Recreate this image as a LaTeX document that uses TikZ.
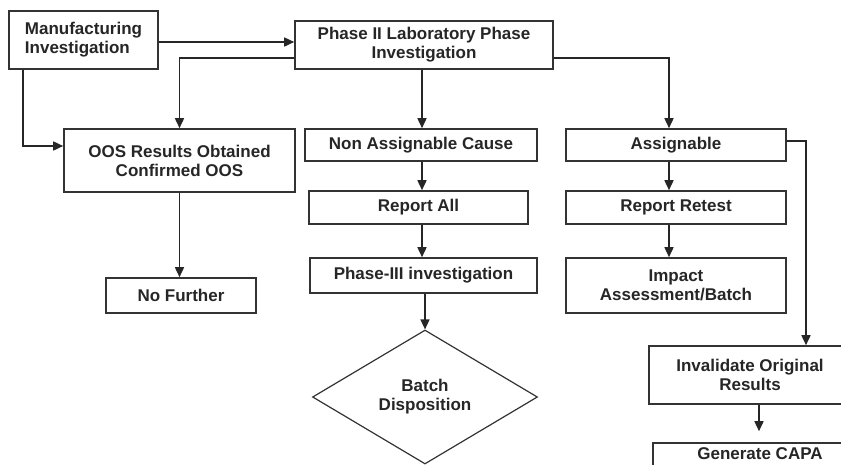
\documentclass[tikz,border=0pt]{standalone}
\usepackage{fontspec}
\setmainfont{Liberation Sans}
\usetikzlibrary{arrows.meta,shapes.geometric}
\begin{document}
\begin{tikzpicture}[x=1pt,y=-1pt,
  box/.style={draw=black!80, line width=1.6pt, fill=white, inner sep=2pt, align=center,
    font=\fontsize{17}{19}\selectfont\bfseries, text=black!85},
  conn/.style={draw=black!85, line width=1.6pt, -{Triangle[length=10pt,width=9pt]}}]
\useasboundingbox (0,0) rectangle (841,464);
\clip (0,0) rectangle (841,464);
\node[box, align=left, minimum width=149pt, minimum height=58pt] (mi) at (83.5,40) {Manufacturing\\Investigation};
\node[box, minimum width=258pt, minimum height=48pt] (p2) at (424,45) {Phase II Laboratory Phase\\Investigation};
\node[box, minimum width=231pt, minimum height=63pt] (oos) at (179.5,160.5) {OOS Results Obtained\\Confirmed OOS};
\node[box, minimum width=150pt, minimum height=35pt] (nf) at (181,295.5) {No Further};
\node[box, minimum width=232pt, minimum height=32pt] (nac) at (421,145) {Non Assignable Cause};
\node[box, minimum width=219pt, minimum height=33pt] (ra) at (418.5,207.5) {Report All};
\node[box, minimum width=227pt, minimum height=35pt] (p3) at (423.5,275.5) {Phase-III investigation};
\node[box, diamond, line width=1.2pt, inner sep=0pt, minimum width=225pt, minimum height=134pt] (bd) at (425,397) {Batch\\Disposition};
\node[box, minimum width=220pt, minimum height=32pt] (as) at (676,145) {Assignable};
\node[box, minimum width=220pt, minimum height=33pt] (rr) at (676,207.5) {Report Retest};
\node[box, minimum width=220pt, minimum height=55pt] (ia) at (676,285.5) {Impact\\Assessment/Batch};
\node[box, minimum width=202pt, minimum height=58pt] (inv) at (750,375) {Invalidate Original\\Results};
\node[box, minimum width=214pt, minimum height=40pt, text height=12pt, text depth=20pt] (gc) at (760,463) {Generate CAPA};

\draw[conn] ([yshift=-2pt]mi.east) -- ([yshift=-2pt]mi.east -| p2.west);
\draw[conn] ([yshift=-13pt]p2.west) -| (oos.north);
\draw[conn] ([xshift=15pt]mi.south west) |- ([yshift=14.5pt]oos.west);
\draw[conn] (oos.south) -- (oos.south |- nf.north);
\draw[conn] ([xshift=-2pt]p2.south) -- ([xshift=-2pt]p2.south |- nac.north);
\draw[conn] ([xshift=1pt]nac.south) -- ([xshift=1pt]nac.south |- ra.north);
\draw[conn] ([xshift=3.5pt]ra.south) -- ([xshift=3.5pt]ra.south |- p3.north);
\draw[conn] (bd.north |- p3.south) -- (bd.north);
\draw[conn] ([yshift=-13pt]p2.east) -| ([xshift=-7pt]as.north);
\draw[conn] ([xshift=-7pt]as.south) -- ([xshift=-7pt]as.south |- rr.north);
\draw[conn] ([xshift=-7pt]rr.south) -- ([xshift=-7pt]rr.south |- ia.north);
\draw[conn] ([yshift=4pt]as.east) -| ([xshift=56pt]inv.north);
\draw[conn, shorten >=11pt] ([xshift=9pt]inv.south) -- ([xshift=9pt]inv.south |- gc.north);
\end{tikzpicture}
\end{document}
